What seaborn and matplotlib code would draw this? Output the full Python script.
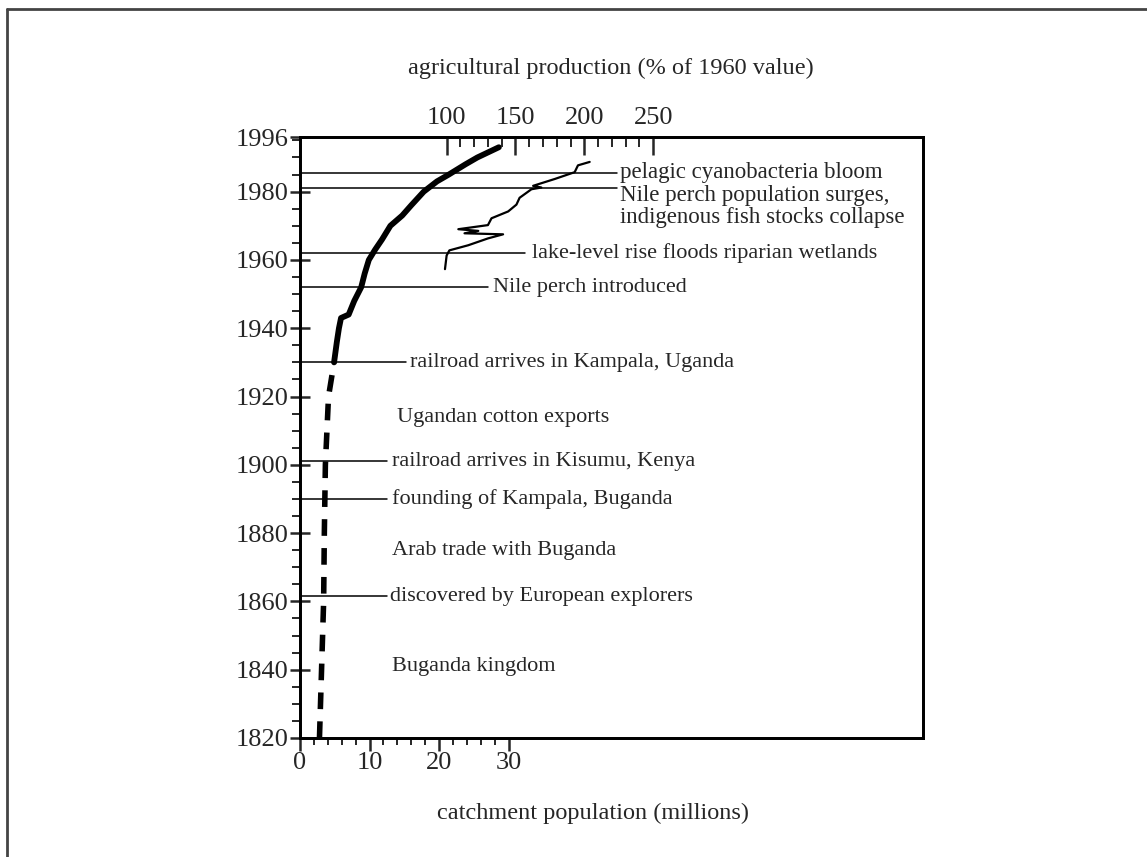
import matplotlib
matplotlib.use("Agg")
import matplotlib.pyplot as plt
import numpy as np
import pandas as pd
import seaborn as sns

# catchment population (millions) -- dashed part (estimated) and solid part
early_years = [1820, 1840, 1860, 1880, 1900, 1920, 1930]
early_pop = [2.8, 3.1, 3.4, 3.5, 3.65, 4.1, 4.9]

pop_years = [1930, 1936, 1940, 1943, 1944, 1948, 1952, 1956, 1960, 1963, 1966, 1970,
             1973, 1976, 1980, 1983, 1985, 1988, 1990, 1993]
pop_values = [4.9, 5.3, 5.6, 5.9, 7.0, 7.8, 8.8, 9.3, 9.9, 10.8, 11.8, 13.0,
              14.7, 16.0, 17.8, 19.7, 21.4, 23.8, 25.5, 28.6]

# agricultural production (% of 1960 value)
agri_years = [1957.3, 1961.3, 1962.8, 1964.3, 1966.3, 1967.5, 1967.8, 1968.5, 1969.0,
              1970.2, 1972.2, 1974.2, 1976.2, 1978.2, 1980.7, 1981.2, 1981.7, 1983.7,
              1985.7, 1987.7, 1988.7]
agri_values = [98.8, 100, 102, 115.7, 130, 141, 113, 123, 108.5,
               130, 132.6, 144.7, 150.7, 153, 161.6, 168.8, 162.8, 178.5,
               193, 195.4, 203.9]

# events: year, label, has a line
event_years = [1985.5, 1981, 1962, 1952, 1930, 1914, 1901, 1890, 1875, 1861.5, 1841]
event_labels = [
    "pelagic cyanobacteria bloom",
    "Nile perch population surges,\nindigenous fish stocks collapse",
    "lake-level rise floods riparian wetlands",
    "Nile perch introduced",
    "railroad arrives in Kampala, Uganda",
    "Ugandan cotton exports",
    "railroad arrives in Kisumu, Kenya",
    "founding of Kampala, Buganda",
    "Arab trade with Buganda",
    "discovered by European explorers",
    "Buganda kingdom",
]
event_has_line = [True, True, True, True, True, False, True, True, False, True, False]

# layout (bottom-axis units): where each line ends and the text starts
line_ends = [45.6, 45.6, 32.4, 27.0, 15.3, 0, 12.5, 12.5, 0, 12.5, 0]
text_x = [46.0, 46.0, 33.4, 27.8, 15.8, 13.9, 13.2, 13.2, 13.2, 13.0, 13.2]

sns.set_theme(style="white")
plt.rcParams["font.family"] = ["Liberation Serif", "DejaVu Serif"]
plt.rcParams["axes.edgecolor"] = "black"

fig = plt.figure(figsize=(11.47, 8.57), dpi=100)
ax = fig.add_axes([300 / 1147, 1 - 738 / 857, 623 / 1147, 601 / 857])

early = pd.DataFrame({"pop": early_pop, "year": early_years})
solid = pd.DataFrame({"pop": pop_values, "year": pop_years})
agri = pd.DataFrame({"pct": agri_values, "year": agri_years})

sns.lineplot(data=early, x="pop", y="year", sort=False, estimator=None,
             color="black", lw=4, ax=ax)
ax.lines[-1].set_dashes([3.0, 2.2])
sns.lineplot(data=solid, x="pop", y="year", sort=False, estimator=None,
             color="black", lw=4.2, ax=ax)

for yr, lab, has_line, xe, xt in zip(event_years, event_labels, event_has_line,
                                     line_ends, text_x):
    if has_line:
        ax.plot([0, xe], [yr, yr], color="black", lw=1.1)
    if "\n" in lab:
        ax.text(xt, yr + 0.9, lab, fontsize=16.5, va="top", ha="left", linespacing=1.05)
    elif yr > 1984:
        ax.text(xt, yr, lab, fontsize=16.5, va="center", ha="left")
    else:
        ax.text(xt, yr, lab, fontsize=16, va="center", ha="left")

ax.set_xlim(0, 89.6)
ax.set_ylim(1820, 1996)
ax.set_xticks([0, 10, 20, 30])
ax.set_xticks(np.arange(2, 30, 2), minor=True)
ax.set_yticks(list(range(1820, 1981, 20)) + [1996])
ax.set_yticks([y for y in range(1825, 1996, 5) if y % 20 != 0], minor=True)
ax.tick_params(axis="x", which="major", direction="out", length=9, width=1.8,
               labelsize=19, pad=1, bottom=True)
ax.tick_params(axis="x", which="minor", direction="out", length=5, width=1.4, bottom=True)
ax.tick_params(axis="y", which="major", direction="inout", length=14, width=1.8,
               labelsize=19, pad=1, left=True)
ax.tick_params(axis="y", which="minor", direction="out", length=6, width=1.4, left=True)
ax.set_xlabel("")
ax.set_ylabel("")
for s in ax.spines.values():
    s.set_linewidth(2.0)
    s.set_color("black")

ax2 = ax.twiny()
sns.lineplot(data=agri, x="pct", y="year", sort=False, estimator=None,
             color="black", lw=1.6, ax=ax2)
ax2.set_xlim(-6.5, 446)
ax2.set_xticks([100, 150, 200, 250])
ax2.set_xticks(np.arange(110, 250, 10), minor=True)
ax2.tick_params(axis="x", which="major", direction="in", length=13, width=1.8,
                labelsize=19, pad=6, top=True)
ax2.tick_params(axis="x", which="minor", direction="in", length=7, width=1.4, top=True)
ax2.set_xlabel("")
ax2.set_ylabel("")
for s in ax2.spines.values():
    s.set_linewidth(2.0)

fig.text(611 / 1147, 1 - 68 / 857, "agricultural production (% of 1960 value)",
         fontsize=17.5, ha="center", va="center")
fig.text(593 / 1147, 1 - 813 / 857, "catchment population (millions)",
         fontsize=17.5, ha="center", va="center")

# outer frame of the picture
fig.add_artist(plt.Line2D([7 / 1147, 7 / 1147], [0, 1 - 9 / 857], transform=fig.transFigure,
                          color="#444444", lw=2))
fig.add_artist(plt.Line2D([7 / 1147, 1], [1 - 9 / 857, 1 - 9 / 857], transform=fig.transFigure,
                          color="#444444", lw=2))

fig.savefig("out.png", dpi=100)
